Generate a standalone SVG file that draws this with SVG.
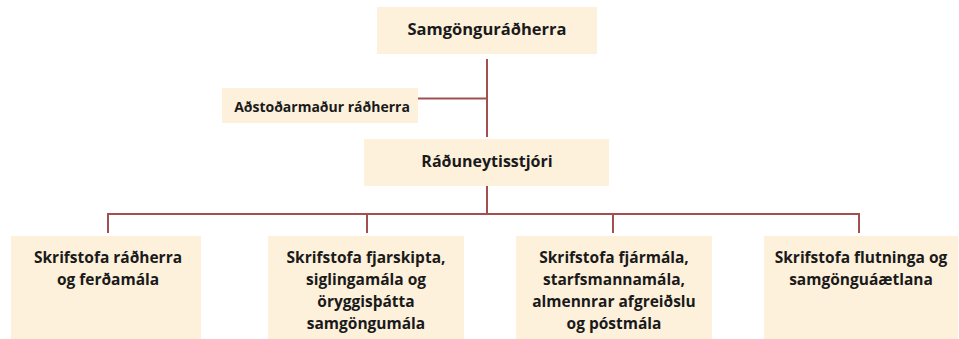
<svg xmlns="http://www.w3.org/2000/svg" width="959" height="339" viewBox="0 0 959 339">
<style>
.box{fill:#FDF1DC;}
.t{font-family:"Open Sans","Noto Sans","DejaVu Sans",sans-serif;font-weight:bold;font-size:15.5px;fill:#1a1a1a;text-anchor:middle;}
.s{font-size:14px;}
.m{font-size:16.5px;}
.r{font-size:16px;}
.c{stroke:#A0504E;stroke-width:2;fill:none;}
</style>
<rect width="959" height="339" fill="#ffffff"/>
<g id="connectors">
<path class="c" d="M487 59 V137"/>
<path class="c" d="M418 98.5 H487"/>
<path class="c" d="M487 186 V214"/>
<path class="c" d="M108 233 V214 H859 V233"/>
<path class="c" d="M367 214 V233"/>
<path class="c" d="M613 214 V233"/>
</g>
<g id="minister">
<rect class="box" x="377" y="7" width="220" height="47"/>
<text class="t m" x="487" y="35">Samgönguráðherra</text>
</g>
<g id="assistant">
<rect class="box" x="222" y="88" width="196" height="35"/>
<text class="t s" x="322" y="112">Aðstoðarmaður ráðherra</text>
</g>
<g id="permsec">
<rect class="box" x="364" y="139" width="245" height="47"/>
<text class="t r" x="487" y="167">Ráðuneytisstjóri</text>
</g>
<g id="office1">
<rect class="box" x="11" y="236" width="190" height="103"/>
<text class="t" x="108" y="262.5">Skrifstofa ráðherra</text>
<text class="t" x="108" y="284.5">og ferðamála</text>
</g>
<g id="office2">
<rect class="box" x="268" y="236" width="196" height="103"/>
<text class="t" x="366" y="262.5">Skrifstofa fjarskipta,</text>
<text class="t" x="366" y="284.5">siglingamála og</text>
<text class="t" x="366" y="306.5">öryggisþátta</text>
<text class="t" x="366" y="328.5">samgöngumála</text>
</g>
<g id="office3">
<rect class="box" x="516" y="236" width="196" height="103"/>
<text class="t" x="614" y="262.5">Skrifstofa fjármála,</text>
<text class="t" x="614" y="284.5">starfsmannamála,</text>
<text class="t" x="614" y="306.5">almennrar afgreiðslu</text>
<text class="t" x="614" y="328.5">og póstmála</text>
</g>
<g id="office4">
<rect class="box" x="764" y="236" width="194" height="103"/>
<text class="t" x="861" y="262.5">Skrifstofa flutninga og</text>
<text class="t" x="861" y="284.5">samgönguáætlana</text>
</g>
</svg>
